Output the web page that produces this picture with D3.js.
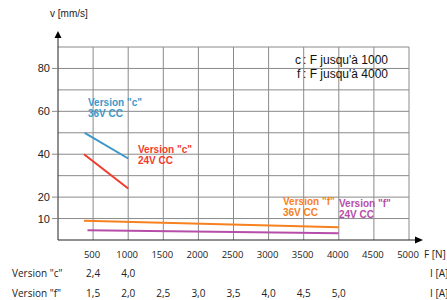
<!DOCTYPE html>
<html><head><meta charset="utf-8">
<script src="https://cdn.jsdelivr.net/npm/d3@7"></script>
<style>body{margin:0;background:#fff}svg{display:block}</style>
</head><body>
<script>
const xTicks = [500,1000,1500,2000,2500,3000,3500,4000,4500,5000];
const yLabels = [10,20,40,60,80];
const yGrid = [10,20,30,40,50,60,70,80,90];
const c36 = [[380,50],[1000,38]];
const c24 = [[370,40],[1000,24]];
const f36 = [[370,9],[4000,6]];
const f24 = [[420,4.6],[4000,3.2]];
const currentC = ["2,4","4,0"];
const currentF = ["1,5","2,0","2,5","3,0","3,5","4,0","4,5","5,0"];

const W=447,H=300;
const svg=d3.select("body").append("svg").attr("width",W).attr("height",H);
const x=d3.scaleLinear().domain([0,5000]).range([58,409]);
const y=d3.scaleLinear().domain([0,90]).range([240,47]);
const grid="#8a8a8a";

// grid
svg.append("g").selectAll("line").data(yGrid).join("line")
 .attr("x1",x(0)).attr("x2",x(5000)).attr("y1",d=>y(d)).attr("y2",d=>y(d))
 .attr("stroke",grid).attr("stroke-width",1);
svg.append("g").selectAll("line").data(xTicks).join("line")
 .attr("x1",d=>x(d)).attr("x2",d=>x(d)).attr("y1",y(0)).attr("y2",y(90))
 .attr("stroke",grid).attr("stroke-width",1);

// axes
svg.append("line").attr("x1",x(0)).attr("x2",418).attr("y1",y(0)).attr("y2",y(0)).attr("stroke","#222").attr("stroke-width",1);
svg.append("line").attr("x1",x(0)).attr("x2",x(0)).attr("y1",y(0)).attr("y2",38).attr("stroke","#222").attr("stroke-width",1);
svg.append("path").attr("d",`M${x(0)-3.5},38 L${x(0)+3.5},38 L${x(0)},31 Z`).attr("fill","#000");
svg.append("path").attr("d",`M415,${y(0)-3.5} L415,${y(0)+3.5} L423,${y(0)} Z`).attr("fill","#000");

// y ticks + labels
svg.append("g").selectAll("line").data(yLabels).join("line")
 .attr("x1",52).attr("x2",x(0)).attr("y1",d=>y(d)).attr("y2",d=>y(d)).attr("stroke",grid);
svg.append("g").selectAll("text").data(yLabels).join("text")
 .attr("x",50).attr("y",d=>y(d)+4).attr("text-anchor","end")
 .attr("font-family","Liberation Sans, Arial, sans-serif").attr("font-size",11).attr("fill","#222").text(d=>d);
svg.append("text").attr("x",50).attr("y",17).attr("font-family","Liberation Sans, Arial, sans-serif").attr("font-size",10).attr("fill","#222").text("v [mm/s]");

// x tick labels
const bf="Open Sans, DejaVu Sans, sans-serif";
svg.append("g").selectAll("text").data(xTicks).join("text")
 .attr("x",d=>x(d)-1).attr("y",258).attr("text-anchor","middle")
 .attr("font-family",bf).attr("font-size",9.5).attr("fill","#222").text(d=>d);
svg.append("text").attr("x",424).attr("y",258).attr("font-family",bf).attr("font-size",10).attr("fill","#222").text("F [N]");

// current rows
svg.append("text").attr("x",12).attr("y",277).attr("font-family",bf).attr("font-size",10).attr("fill","#222").text('Version "c"');
svg.append("text").attr("x",12).attr("y",297).attr("font-family",bf).attr("font-size",10).attr("fill","#222").text('Version "f"');
svg.append("g").selectAll("text").data(currentC).join("text")
 .attr("x",(d,i)=>x(xTicks[i])).attr("y",277).attr("text-anchor","middle")
 .attr("font-family",bf).attr("font-size",10).attr("fill","#222").text(d=>d);
svg.append("g").selectAll("text").data(currentF).join("text")
 .attr("x",(d,i)=>x(xTicks[i])).attr("y",297).attr("text-anchor","middle")
 .attr("font-family",bf).attr("font-size",10).attr("fill","#222").text(d=>d);
svg.append("text").attr("x",430).attr("y",277).attr("font-family",bf).attr("font-size",10).attr("fill","#222").text("I [A]");
svg.append("text").attr("x",430).attr("y",297).attr("font-family",bf).attr("font-size",10).attr("fill","#222").text("I [A]");

// series lines
const line=d3.line().x(d=>x(d[0])).y(d=>y(d[1]));
const series=[[c36,"#3d97c8"],[c24,"#f23b2b"],[f36,"#f7811e"],[f24,"#b64ea9"]];
series.forEach(([d,c])=>svg.append("path").attr("d",line(d)).attr("fill","none").attr("stroke",c).attr("stroke-width",2));

// annotations
const lf="Liberation Sans, Arial, sans-serif";
function lab(px,py,t1,t2,c){
 const g=svg.append("g").attr("font-family",lf).attr("font-size",10).attr("font-weight","bold").attr("fill",c);
 g.append("text").attr("x",px).attr("y",py).text(t1);
 g.append("text").attr("x",px).attr("y",py+11).text(t2);
}
lab(88,106,'Version "c"',"36V CC","#3d97c8");
lab(138,153,'Version "c"',"24V CC","#f23b2b");
lab(283,205,'Version "f"',"36V CC","#f7811e");
lab(339,207,'Version "f"',"24V CC","#b64ea9");

// legend
const lg=svg.append("g").attr("font-family",lf).attr("font-size",12).attr("fill","#111");
lg.append("text").attr("x",295).attr("y",64).text("c");
lg.append("text").attr("x",303).attr("y",64).text(": F jusqu'à 1000");
lg.append("text").attr("x",297).attr("y",78).text("f");
lg.append("text").attr("x",303).attr("y",78).text(": F jusqu'à 4000");
</script>
</body></html>
